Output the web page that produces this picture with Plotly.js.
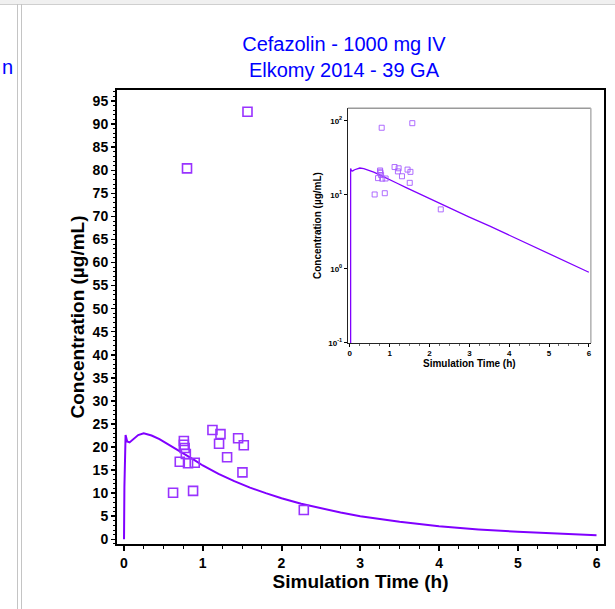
<!DOCTYPE html>
<html>
<head>
<meta charset="utf-8">
<script src="https://cdn.plot.ly/plotly-3.0.1.min.js"></script>
<style>
  html, body { margin: 0; padding: 0; background: #ffffff; }
  #wrap { position: relative; width: 615px; height: 609px; overflow: hidden; background: #ffffff; }
  .chrome { position: absolute; }
  #chart { position: absolute; left: 0; top: 0; width: 615px; height: 609px; }
</style>
</head>
<body>
<div id="wrap">
  <div class="chrome" style="left:0;top:0;width:615px;height:4px;background:#f0f0f0;border-bottom:1px solid #cfcfcf;"></div>
  <div class="chrome" style="left:17px;top:4px;width:1px;height:605px;background:#c4c4c4;"></div>
  <div class="chrome" style="left:21px;top:4px;width:1px;height:605px;background:#c4c4c4;"></div>
  <div id="chart"></div>
</div>
<script>
// Simulated concentration-time profile
const simTime = [0, 0.005, 0.02, 0.04, 0.07, 0.12, 0.18, 0.25, 0.35, 0.45, 0.6, 0.75, 0.9, 1.0, 1.2, 1.4, 1.6, 1.8, 2.0, 2.25, 2.5, 2.75, 3.0, 3.5, 4.0, 4.5, 5.0, 5.5, 6.0];
const simConc = [0, 11.3, 22.6, 21.2, 21.0, 21.8, 22.6, 23.0, 22.5, 21.7, 20.2, 18.6, 17.1, 16.0, 14.2, 12.6, 11.2, 10.0, 8.9, 7.7, 6.7, 5.8, 5.0, 3.8, 2.85, 2.15, 1.62, 1.22, 0.9];

// Observed data points
const obsTime = [0.76, 0.76, 0.77, 0.785, 0.708, 0.813, 0.898, 0.623, 0.877, 1.123, 1.225, 1.207, 1.449, 1.521, 1.309, 1.504, 2.283, 1.568, 0.80];
const obsConc = [21.3, 20.5, 19.8, 18.5, 16.8, 16.5, 16.6, 10.1, 10.5, 23.7, 22.8, 20.7, 21.9, 20.4, 17.8, 14.5, 6.35, 92.7, 80.4];

// Tick labels
const xTickVals = [0, 1, 2, 3, 4, 5, 6];
const logTickVals = [0.1, 1, 10, 100];
const logTickText = ['10<sup>-1</sup>', '10<sup>0</sup>', '10<sup>1</sup>', '10<sup>2</sup>'];

const titleText = 'Cefazolin - 1000 mg IV<br>Elkomy 2014 - 39 GA';
const xTitle = 'Simulation Time (h)';
const yTitle = 'Concentration (µg/mL)';

const FONT = 'Liberation Sans, Arial, Helvetica, sans-serif';
const lineColor = '#8000ff';
const markerColor = '#9933ff';

const traces = [
  { x: simTime, y: simConc, type: 'scatter', mode: 'lines', line: { color: lineColor, width: 2 }, xaxis: 'x', yaxis: 'y', hoverinfo: 'skip' },
  { x: obsTime, y: obsConc, type: 'scatter', mode: 'markers', marker: { symbol: 'square-open', size: 9, color: markerColor, line: { width: 1.6, color: markerColor } }, xaxis: 'x', yaxis: 'y' },
  { x: simTime, y: simConc, type: 'scatter', mode: 'lines', line: { color: lineColor, width: 1.3 }, xaxis: 'x2', yaxis: 'y2', hoverinfo: 'skip' },
  { x: obsTime, y: obsConc, type: 'scatter', mode: 'markers', marker: { symbol: 'square-open', size: 5, color: '#a65cff', line: { width: 0.9, color: '#a65cff' } }, xaxis: 'x2', yaxis: 'y2' }
];

const layout = {
  width: 615, height: 609,
  margin: { l: 117, r: 11, t: 90, b: 65 },
  paper_bgcolor: 'rgba(0,0,0,0)',
  plot_bgcolor: '#ffffff',
  showlegend: false,
  font: { family: FONT, color: '#000000' },
  title: {
    text: titleText,
    font: { family: FONT, size: 20, color: '#0000ff' },
    xref: 'paper', x: 0.466, xanchor: 'center',
    yref: 'container', y: 1 - 51 / 609, yanchor: 'middle'
  },
  xaxis: {
    domain: [0, 1], range: [-0.089, 6.095], anchor: 'y',
    tickvals: xTickVals, ticks: 'outside', ticklen: 5, tickwidth: 2, tickcolor: '#000',
    minor: { dtick: 0.25, ticks: 'outside', ticklen: 3, tickwidth: 1, tickcolor: '#000' },
    showline: true, linewidth: 2, linecolor: '#000', mirror: true,
    showgrid: false, zeroline: false,
    tickfont: { family: FONT, size: 14, weight: 700, color: '#000' },
    title: { text: xTitle, font: { family: FONT, size: 19, weight: 700, color: '#000' }, standoff: 4 }
  },
  yaxis: {
    domain: [0, 1], range: [-1.02, 97.4], anchor: 'x',
    dtick: 5, tick0: 0, ticks: 'outside', ticklen: 4, tickwidth: 1.5, tickcolor: '#000',
    minor: { dtick: 1, ticks: 'outside', ticklen: 2, tickwidth: 1, tickcolor: '#000' },
    showline: true, linewidth: 2, linecolor: '#000', mirror: true,
    showgrid: false, zeroline: false,
    tickfont: { family: FONT, size: 14, weight: 700, color: '#000' },
    title: { text: yTitle, font: { family: FONT, size: 19, weight: 700, color: '#000' }, standoff: 3 }
  },
  xaxis2: {
    domain: [0.474, 0.973], range: [-0.05, 6.05], anchor: 'y2',
    tickvals: xTickVals, ticks: 'outside', ticklen: 3, tickwidth: 1, tickcolor: '#000',
    minor: { dtick: 0.25, ticks: 'outside', ticklen: 2, tickwidth: 0.8, tickcolor: '#444' },
    showline: true, linewidth: 1, linecolor: '#222', mirror: false,
    showgrid: false, zeroline: false,
    tickfont: { family: FONT, size: 8, weight: 700, color: '#000' },
    title: { text: xTitle, font: { family: FONT, size: 10, weight: 700, color: '#000' }, standoff: 2 }
  },
  yaxis2: {
    domain: [0.443, 0.960], type: 'log', range: [-1.0, 2.17], anchor: 'x2',
    tickvals: logTickVals, ticktext: logTickText,
    ticks: 'outside', ticklen: 3, tickwidth: 1, tickcolor: '#000',
    showline: true, linewidth: 1, linecolor: '#222', mirror: false,
    showgrid: false, zeroline: false,
    tickfont: { family: FONT, size: 8, weight: 700, color: '#000' },
    title: { text: yTitle, font: { family: FONT, size: 10, weight: 700, color: '#000' }, standoff: 4 }
  },
  shapes: [
    { type: 'line', xref: 'x2 domain', yref: 'y2 domain', x0: 0, x1: 1, y0: 1, y1: 1, line: { color: '#9a9a9a', width: 1.5 } },
    { type: 'line', xref: 'x2 domain', yref: 'y2 domain', x0: 1, x1: 1, y0: 0, y1: 1, line: { color: '#b0b0b0', width: 1.5 } }
  ],
  annotations: [
    { text: 'n', xref: 'paper', yref: 'paper', x: (7.5 - 117) / 487, y: (544 - 67) / 454, xanchor: 'center', yanchor: 'middle', showarrow: false, font: { family: FONT, size: 20, color: '#0000ff' } }
  ]
};

Plotly.newPlot('chart', traces, layout, { displayModeBar: false, staticPlot: true });
</script>
</body>
</html>
